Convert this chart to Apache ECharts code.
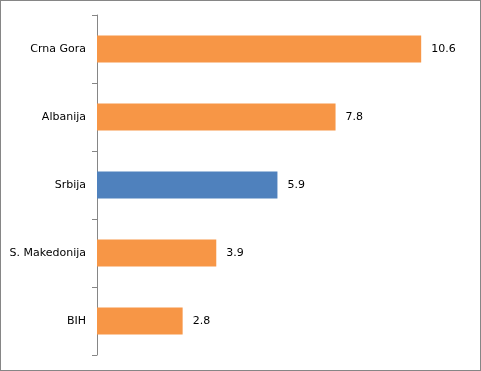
<!DOCTYPE html>
<html><head><meta charset="utf-8">
<script src="https://cdn.jsdelivr.net/npm/echarts@6/dist/echarts.min.js"></script>
<style>html,body{margin:0;padding:0;background:#fff}
#c{width:481px;height:371px;position:absolute;left:0;top:0;box-sizing:border-box;}
#b{position:absolute;left:0;top:0;width:481px;height:371px;box-sizing:border-box;border:1px solid #868686;pointer-events:none}</style>
</head><body><div id="c"></div><div id="b"></div>
<script>
const categories = ['Crna Gora', 'Albanija', 'Srbija', 'S. Makedonija', 'BIH'];
const values = [10.6, 7.8, 5.9, 3.9, 2.8];
const highlight = 'Srbija';
const orange = '#F79646', blue = '#4F81BD';
const chart = echarts.init(document.getElementById('c'));
chart.setOption({
  animation: false,
  grid: {left: 97, top: 15, bottom: 16, width: 367},
  xAxis: {type: 'value', min: 0, max: 12, show: false},
  yAxis: {
    type: 'category', inverse: true, data: categories,
    axisLine: {lineStyle: {color: '#868686', width: 1}},
    axisTick: {show: true, length: 5, lineStyle: {color: '#868686'}},
    axisLabel: {color: '#000', fontFamily: 'DejaVu Sans', fontSize: 11, margin: 11}
  },
  series: [{
    type: 'bar', barWidth: '40%',
    data: values.map((v, i) => ({value: v, itemStyle: {color: categories[i] === highlight ? blue : orange}})),
    label: {show: true, position: 'right', distance: 10, color: '#000', fontFamily: 'DejaVu Sans', fontSize: 11,
      formatter: p => p.value.toFixed(1)}
  }]
});
</script></body></html>
